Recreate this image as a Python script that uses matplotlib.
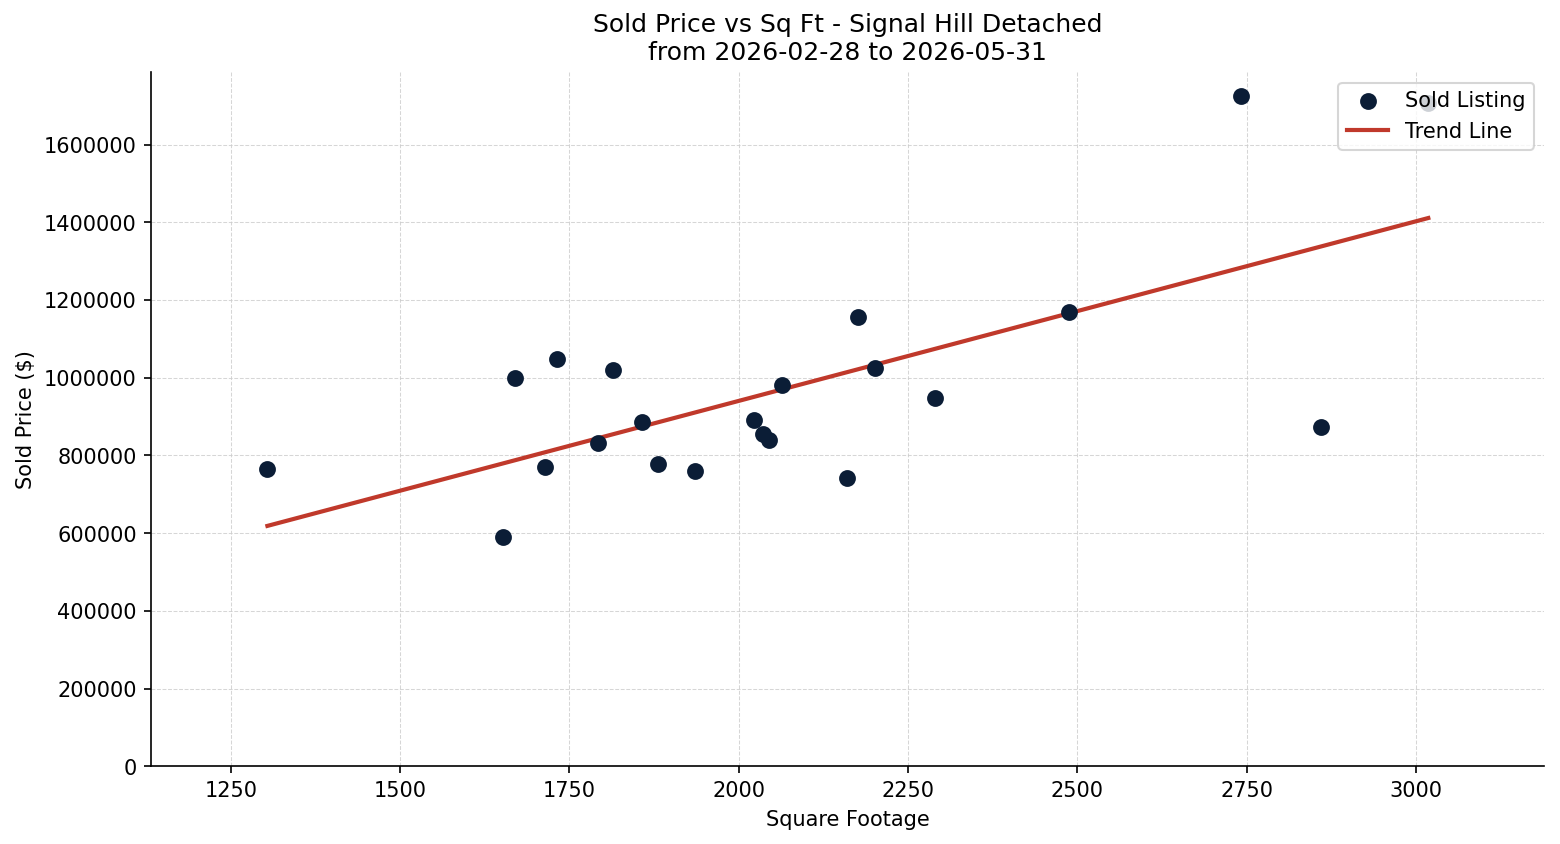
import numpy as np
import matplotlib
matplotlib.use("Agg")
import matplotlib.pyplot as plt

# sold listings, Signal Hill detached
sqft = [1304, 1652, 1670, 1714, 1732, 1792, 1814, 1857, 1880, 1936, 2023,
        2035, 2045, 2064, 2160, 2176, 2201, 2290, 2487, 2742, 2860, 3018]
price = [766000, 589000, 998000, 769000, 1049000, 831000, 1019000, 887000,
         779000, 761000, 890000, 854000, 841000, 980000, 743000, 1155000,
         1026000, 947000, 1170000, 1726000, 872000, 1708000]

x = np.array(sqft)
y = np.array(price)

fig, ax = plt.subplots(figsize=(10.4, 5.63), dpi=150)
ax.scatter(x, y, s=50, color='#0b1d36', label='Sold Listing', zorder=3)

slope, intercept = np.polyfit(x, y, 1)
xs = np.array([x.min(), x.max()])
ax.plot(xs, slope * xs + intercept, color='#c0392b', linewidth=2, label='Trend Line', zorder=2)

pad = 0.1 * (x.max() - x.min())
ax.set_xlim(x.min() - pad, x.max() + pad)
ax.set_ylim(0, y.max() * 1.035)

ax.set_title("Sold Price vs Sq Ft - Signal Hill Detached\nfrom 2026-02-28 to 2026-05-31")
ax.set_xlabel("Square Footage")
ax.set_ylabel("Sold Price ($)")
ax.ticklabel_format(style='plain', axis='y')
ax.grid(True, linestyle='--', linewidth=0.5, color='#cccccc', alpha=0.8)
ax.spines['top'].set_visible(False)
ax.spines['right'].set_visible(False)
ax.legend(loc='upper right')

fig.subplots_adjust(left=0.097, right=0.990, top=0.914, bottom=0.092)
fig.savefig("out.png", dpi=150)
